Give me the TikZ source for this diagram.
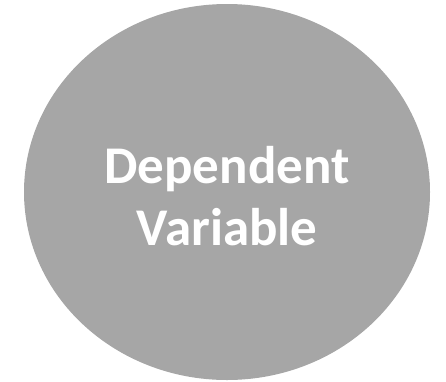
\documentclass[tikz,border=0pt]{standalone}
\usepackage{fontspec}
\setmainfont{Carlito}
\definecolor{blobgray}{HTML}{A6A6A6}
\tikzset{
  varshape/.style={ellipse, fill=blobgray, draw=none, minimum width=406pt, minimum height=376pt, inner sep=0pt},
  varlabel/.style={text=white, font=\bfseries\fontsize{53}{62}\selectfont, align=center}
}
\usetikzlibrary{shapes.geometric}
\begin{document}
\begin{tikzpicture}[x=1pt,y=-1pt]
  \useasboundingbox (0,0) rectangle (446,381);
  \node[varshape] (dv) at (227,192) {};
  \node[varlabel] (dvtext) at (227,196) {Dependent\\Variable};
\end{tikzpicture}
\end{document}
